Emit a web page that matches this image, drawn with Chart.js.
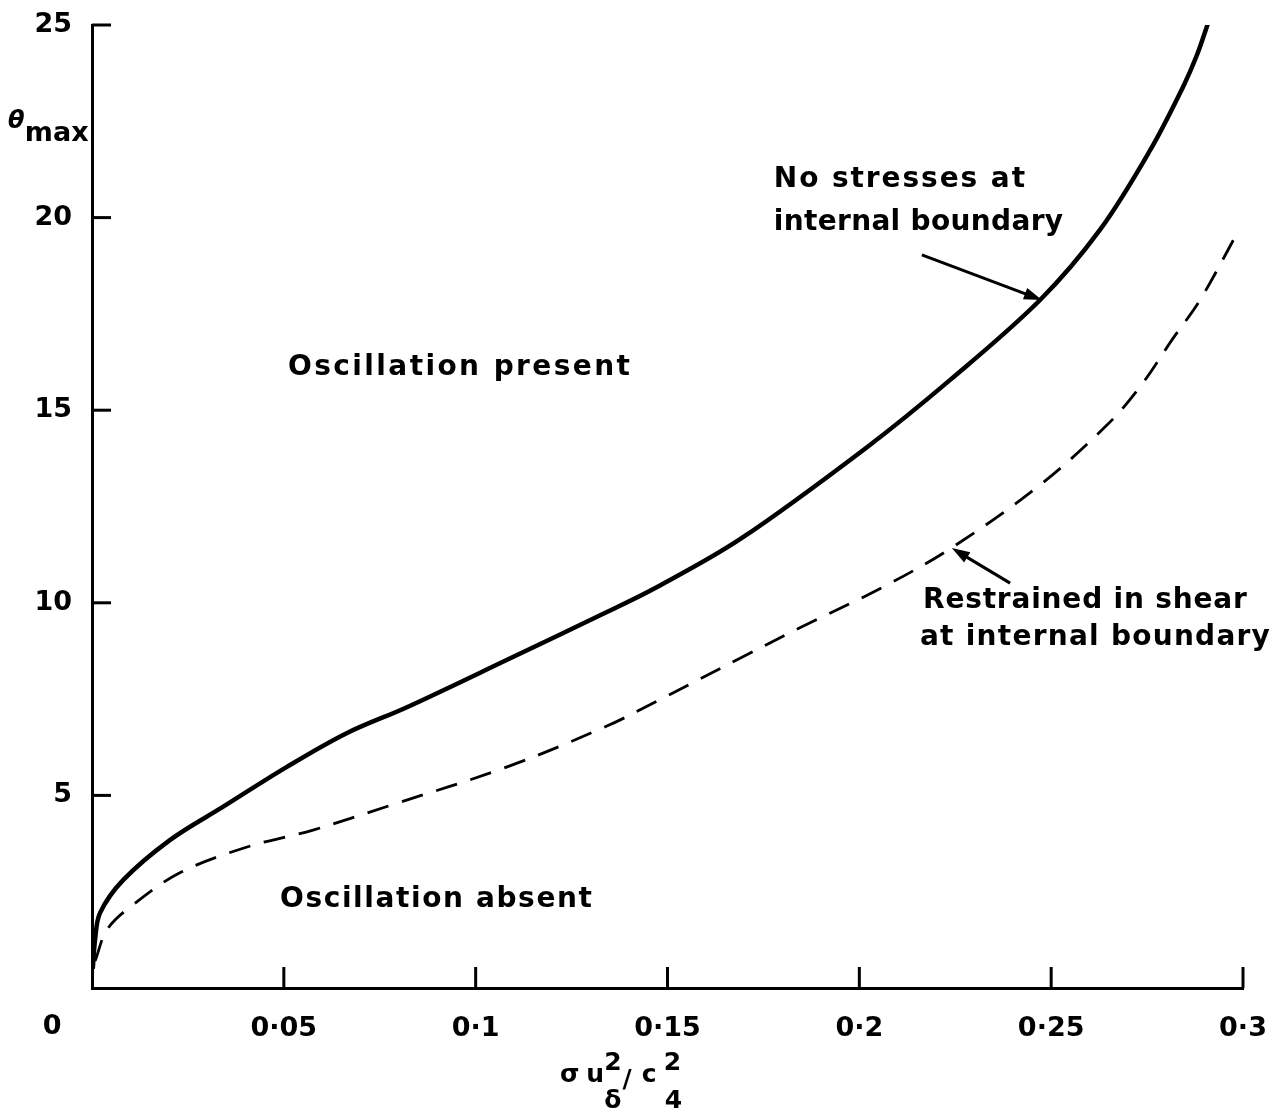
<!DOCTYPE html>
<html><head><meta charset="utf-8">
<script src="https://cdn.jsdelivr.net/npm/chart.js@4.4.1/dist/chart.umd.min.js"></script>
<style>html,body{margin:0;padding:0;background:#fff;}canvas{display:block;}</style>
</head><body>
<canvas id="c" width="1284" height="1116"></canvas>
<script>
// ---- data ----
const solidX = [0.0002,0.0008,0.0021,0.0081,0.0203,0.0341,0.0508,0.0665,0.0821,0.1082,0.1342,0.1473,0.1689,0.2020,0.2236,0.2471,0.2627,0.2758,0.2844,0.2880,0.2909];
const solidY = [0.5,1.25,1.95,2.80,3.84,4.70,5.74,6.62,7.29,8.52,9.76,10.41,11.65,14.04,15.78,17.86,19.68,21.75,23.40,24.22,25.05];
const dashedX = [0.0008,0.0039,0.0099,0.0229,0.0404,0.0576,0.0780,0.1082,0.1342,0.1473,0.1689,0.1845,0.2062,0.2244,0.2471,0.2646,0.2731,0.2818,0.2888,0.2992];
const dashedY = [0.7,1.51,2.10,2.99,3.66,4.10,4.75,5.74,6.80,7.45,8.56,9.35,10.41,11.45,13.06,14.62,15.60,16.87,17.86,19.73];
const xTickValues = [0,0.05,0.1,0.15,0.2,0.25,0.3];
const xTickLabels = ['','0·05','0·1','0·15','0·2','0·25','0·3'];
const yTickValues = [0,5,10,15,20,25];
const yTickLabels = ['','5','10','15','20','25'];
const noteTexts = ['No stresses at','internal boundary','Oscillation present','Oscillation absent','Restrained in shear','at internal boundary'];
const noteX    = [0.1777,0.1777,0.0511,0.0490,0.2166,0.2158];
const noteXEnd = [0.2432,0.2531,0.1402,0.1303,0.3010,0.3070];
const noteY    = [20.80,19.68,15.91,2.10,9.87,8.90];
const arrowFromX = [0.2163,0.2393], arrowFromY = [19.03,10.51];
const arrowToX   = [0.2476,0.2241], arrowToY   = [17.86,11.42];
const originLabel = '0', originX = -0.0104, originY = -1.01;
const yTitleParts = ['θ','max'], yTitleX = [-0.0219,-0.0175], yTitleY = [22.33,21.99];
const xTitleParts = ['σ','u','2','δ','/','c','2','4'];
const xTitleX = [0.1220,0.1288,0.1335,0.1335,0.1383,0.1433,0.1490,0.1493];
const xTitleY = [-2.44,-2.44,-2.13,-3.12,-2.57,-2.44,-2.13,-3.12];

const FONT = '"DejaVu Sans", sans-serif';

function spacedText(ctx, text, x, y, width) {
  const chars = [...text];
  let w = 0; chars.forEach(c => w += ctx.measureText(c).width);
  const gap = (width && chars.length > 1) ? (width - w) / (chars.length - 1) : 0;
  let cx = x;
  chars.forEach(c => { ctx.fillText(c, cx, y); cx += ctx.measureText(c).width + gap; });
}

const overlay = {
  id: 'overlay',
  afterDraw(chart) {
    const ctx = chart.ctx, xs = chart.scales.x, ys = chart.scales.y;
    ctx.save();
    ctx.strokeStyle = '#000'; ctx.fillStyle = '#000'; ctx.lineWidth = 3; ctx.lineCap = 'butt';
    // inward tick marks
    ys.ticks.forEach(t => { if (t.value === 0) return; const p = ys.getPixelForValue(t.value);
      ctx.beginPath(); ctx.moveTo(xs.left, p); ctx.lineTo(xs.left + 19, p); ctx.stroke(); });
    xs.ticks.forEach(t => { if (t.value === 0) return; const p = xs.getPixelForValue(t.value);
      ctx.beginPath(); ctx.moveTo(p, ys.bottom); ctx.lineTo(p, ys.bottom - 21); ctx.stroke(); });
    // annotations
    ctx.textBaseline = 'alphabetic'; ctx.textAlign = 'left';
    ctx.font = 'bold 28px ' + FONT;
    noteTexts.forEach((t, i) => {
      const x0 = xs.getPixelForValue(noteX[i]), x1 = xs.getPixelForValue(noteXEnd[i]);
      spacedText(ctx, t, x0, ys.getPixelForValue(noteY[i]), x1 - x0);
    });
    // arrows
    arrowFromX.forEach((_, i) => {
      const x0 = xs.getPixelForValue(arrowFromX[i]), y0 = ys.getPixelForValue(arrowFromY[i]);
      const x1 = xs.getPixelForValue(arrowToX[i]), y1 = ys.getPixelForValue(arrowToY[i]);
      const a = Math.atan2(y1 - y0, x1 - x0), L = 18, W = 6;
      ctx.lineWidth = 3;
      ctx.beginPath(); ctx.moveTo(x0, y0); ctx.lineTo(x1 - L * 0.7 * Math.cos(a), y1 - L * 0.7 * Math.sin(a)); ctx.stroke();
      ctx.beginPath(); ctx.moveTo(x1, y1);
      ctx.lineTo(x1 - L * Math.cos(a) + W * Math.sin(a), y1 - L * Math.sin(a) - W * Math.cos(a));
      ctx.lineTo(x1 - L * Math.cos(a) - W * Math.sin(a), y1 - L * Math.sin(a) + W * Math.cos(a));
      ctx.closePath(); ctx.fill();
    });
    // origin label
    ctx.font = 'bold 27px ' + FONT; ctx.textAlign = 'center'; ctx.textBaseline = 'middle';
    ctx.fillText(originLabel, xs.getPixelForValue(originX), ys.getPixelForValue(originY));
    // y title
    ctx.textAlign = 'left'; ctx.textBaseline = 'alphabetic';
    ctx.font = 'italic bold 24px ' + FONT;
    ctx.fillText(yTitleParts[0], xs.getPixelForValue(yTitleX[0]), ys.getPixelForValue(yTitleY[0]));
    ctx.font = 'bold 27px ' + FONT;
    ctx.fillText(yTitleParts[1], xs.getPixelForValue(yTitleX[1]), ys.getPixelForValue(yTitleY[1]));
    // x title
    ctx.font = 'bold 25px ' + FONT;
    xTitleParts.forEach((t, i) => {
      ctx.fillText(t, xs.getPixelForValue(xTitleX[i]), ys.getPixelForValue(xTitleY[i]));
    });
    ctx.restore();
  }
};

const zeroPad = s => { s.paddingTop = 0; s.paddingBottom = 0; s.paddingLeft = 0; s.paddingRight = 0; };

new Chart(document.getElementById('c'), {
  type: 'line',
  data: {
    datasets: [
      { data: solidX.map((x, i) => ({ x, y: solidY[i] })), borderColor: '#000', borderWidth: 4.5,
        pointRadius: 0, tension: 0.35, fill: false },
      { data: dashedX.map((x, i) => ({ x, y: dashedY[i] })), borderColor: '#000', borderWidth: 2.8,
        borderDash: [22, 14], pointRadius: 0, tension: 0.35, fill: false }
    ]
  },
  options: {
    responsive: false, animation: false, devicePixelRatio: 1,
    layout: { padding: { left: 0, top: 25, right: 41, bottom: 0 } },
    plugins: { legend: { display: false }, tooltip: { enabled: false } },
    scales: {
      x: {
        type: 'linear', min: 0, max: 0.3,
        afterBuildTicks: s => { s.ticks = xTickValues.map(v => ({ value: v })); },
        afterFit: s => { s.height = 128; zeroPad(s); },
        grid: { display: true, drawOnChartArea: false, drawTicks: false },
        border: { display: true, color: '#000', width: 3 },
        ticks: { color: '#000', font: { family: FONT, size: 27, weight: 'bold' }, padding: 25, maxRotation: 0,
          callback: (v, i) => xTickLabels[i] }
      },
      y: {
        type: 'linear', min: 0, max: 25,
        afterBuildTicks: s => { s.ticks = yTickValues.map(v => ({ value: v })); },
        afterFit: s => { s.width = 92; zeroPad(s); },
        grid: { display: true, drawOnChartArea: false, drawTicks: false },
        border: { display: true, color: '#000', width: 3 },
        ticks: { color: '#000', font: { family: FONT, size: 27, weight: 'bold' }, padding: 20,
          callback: (v, i) => yTickLabels[i] }
      }
    }
  },
  plugins: [overlay]
});
</script>
</body></html>
